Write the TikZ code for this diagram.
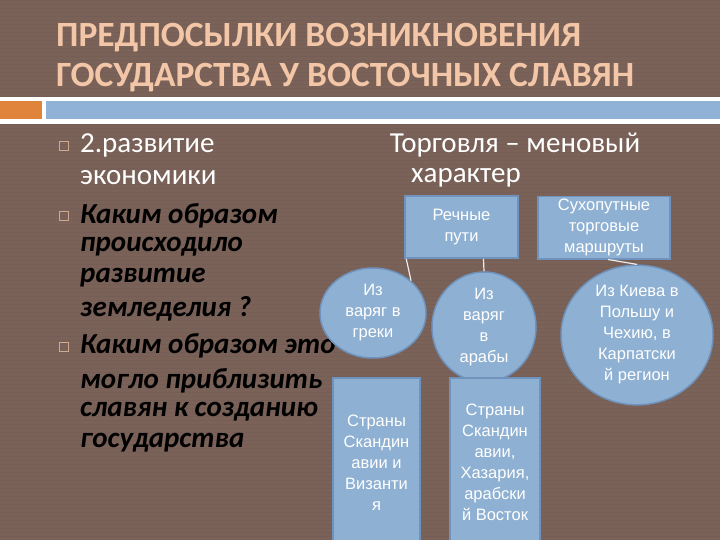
\documentclass[tikz,border=0pt]{standalone}
\usepackage{fontspec}
\setmainfont{Carlito}
\newfontfamily\boxfont{Liberation Sans}
\usetikzlibrary{shapes.geometric}
\definecolor{bg}{HTML}{7A6259}
\definecolor{peach}{HTML}{F2C6A6}
\definecolor{boxblue}{HTML}{8EB0D2}
\definecolor{boxedge}{HTML}{6F93BC}
\definecolor{orangeband}{HTML}{E0843C}
\definecolor{blueband}{HTML}{8FB2D6}
\tikzset{
 x=1pt,y=-1pt,
 rbox/.style={draw=boxedge,line width=1.5pt,fill=boxblue,text=white,font=\boxfont\fontsize{16.5}{21}\selectfont,align=center,inner sep=1pt},
 ebox/.style={ellipse,draw=boxedge,line width=1.5pt,fill=boxblue,text=white,font=\boxfont\fontsize{16.5}{21}\selectfont,align=center,inner sep=0pt},
 link/.style={draw=white!85!gray,line width=1.2pt},
 bul/.style={draw=peach!70!bg,line width=0.6pt,minimum size=9pt,inner sep=0pt},
 body/.style={anchor=west,inner sep=0pt,font=\fontsize{29}{33}\selectfont},
 emph/.style={body,font=\fontsize{29}{33}\selectfont\bfseries\itshape,text=black}
}
\begin{document}
\begin{tikzpicture}
\fill[bg] (0,0) rectangle (720,540);
\useasboundingbox (0,0) rectangle (720,540);
\foreach \yy in {0,4,...,540} \draw[bg!90!black,line width=0.5pt,opacity=0.4] (0,\yy) -- (720,\yy);
\node[anchor=west,inner sep=0pt,text=peach,font=\fontsize{35.5}{40}\selectfont\bfseries,align=left] (title) at (56,58) {ПРЕДПОСЫЛКИ ВОЗНИКНОВЕНИЯ\\ГОСУДАРСТВА У ВОСТОЧНЫХ СЛАВЯН};
\fill[white] (0,97) rectangle (720,124);
\fill[orangeband] (0,101) rectangle (42,119);
\fill[blueband] (46,101) rectangle (720,119);
\node[bul] (b1) at (64,146) {};
\node[bul] (b2) at (64,216) {};
\node[bul] (b3) at (64,347) {};
\node[body,text=white] (t1) at (80,145) {2.развитие};
\node[body,text=white] (t2) at (80,178) {экономики};
\node[emph] (t3) at (80,216) {Каким образом};
\node[emph] (t4) at (80,247) {происходило};
\node[emph] (t5) at (80,278) {развитие};
\node[emph] (t6) at (80,309) {земледелия ?};
\node[emph] (t7) at (80,346) {Каким образом это};
\node[emph] (t8) at (80,381) {могло приблизить};
\node[emph] (t9) at (80,412) {славян к созданию};
\node[emph] (t10) at (80,443) {государства};
\node[text=white,font=\fontsize{29}{33}\selectfont] (tr1) at (515,145) {Торговля – меновый};
\node[text=white,font=\fontsize{29}{33}\selectfont] (tr2) at (466,178) {характер};
\node[rbox,minimum width=113pt,minimum height=62pt] (river) at (461.5,227) {Речные\\пути};
\node[rbox,minimum width=132pt,minimum height=62pt,anchor=north] (land) at (604,196) {Сухопутные\\торговые\\маршруты};
\node[ebox,minimum width=106pt,minimum height=90pt] (e1) at (373,313) {Из\\варяг в\\греки};
\node[ebox,minimum width=104pt,minimum height=88pt] (e2) at (484,327) {Из\\варяг\\в\\арабы};
\node[ebox,minimum width=152pt,minimum height=108pt] (e3) at (637,335) {Из Киева в\\Польшу и\\Чехию, в\\Карпатски\\й регион};
\node[rbox,minimum width=87pt,minimum height=170pt,anchor=north] (r1) at (376.5,377) {Страны\\Скандин\\авии и\\Византи\\я};
\node[rbox,minimum width=90pt,minimum height=170pt,anchor=north] (r2) at (495,377) {Страны\\Скандин\\авии,\\Хазария,\\арабски\\й Восток};
\draw[link] (river.south west) ++(2,0) -- (e1.north east);
\draw[link] (river.south) ++(22,0) -- (e2.north);
\draw[link] (land.south) ++(4,0) -- (e3.north);
\end{tikzpicture}
\end{document}
